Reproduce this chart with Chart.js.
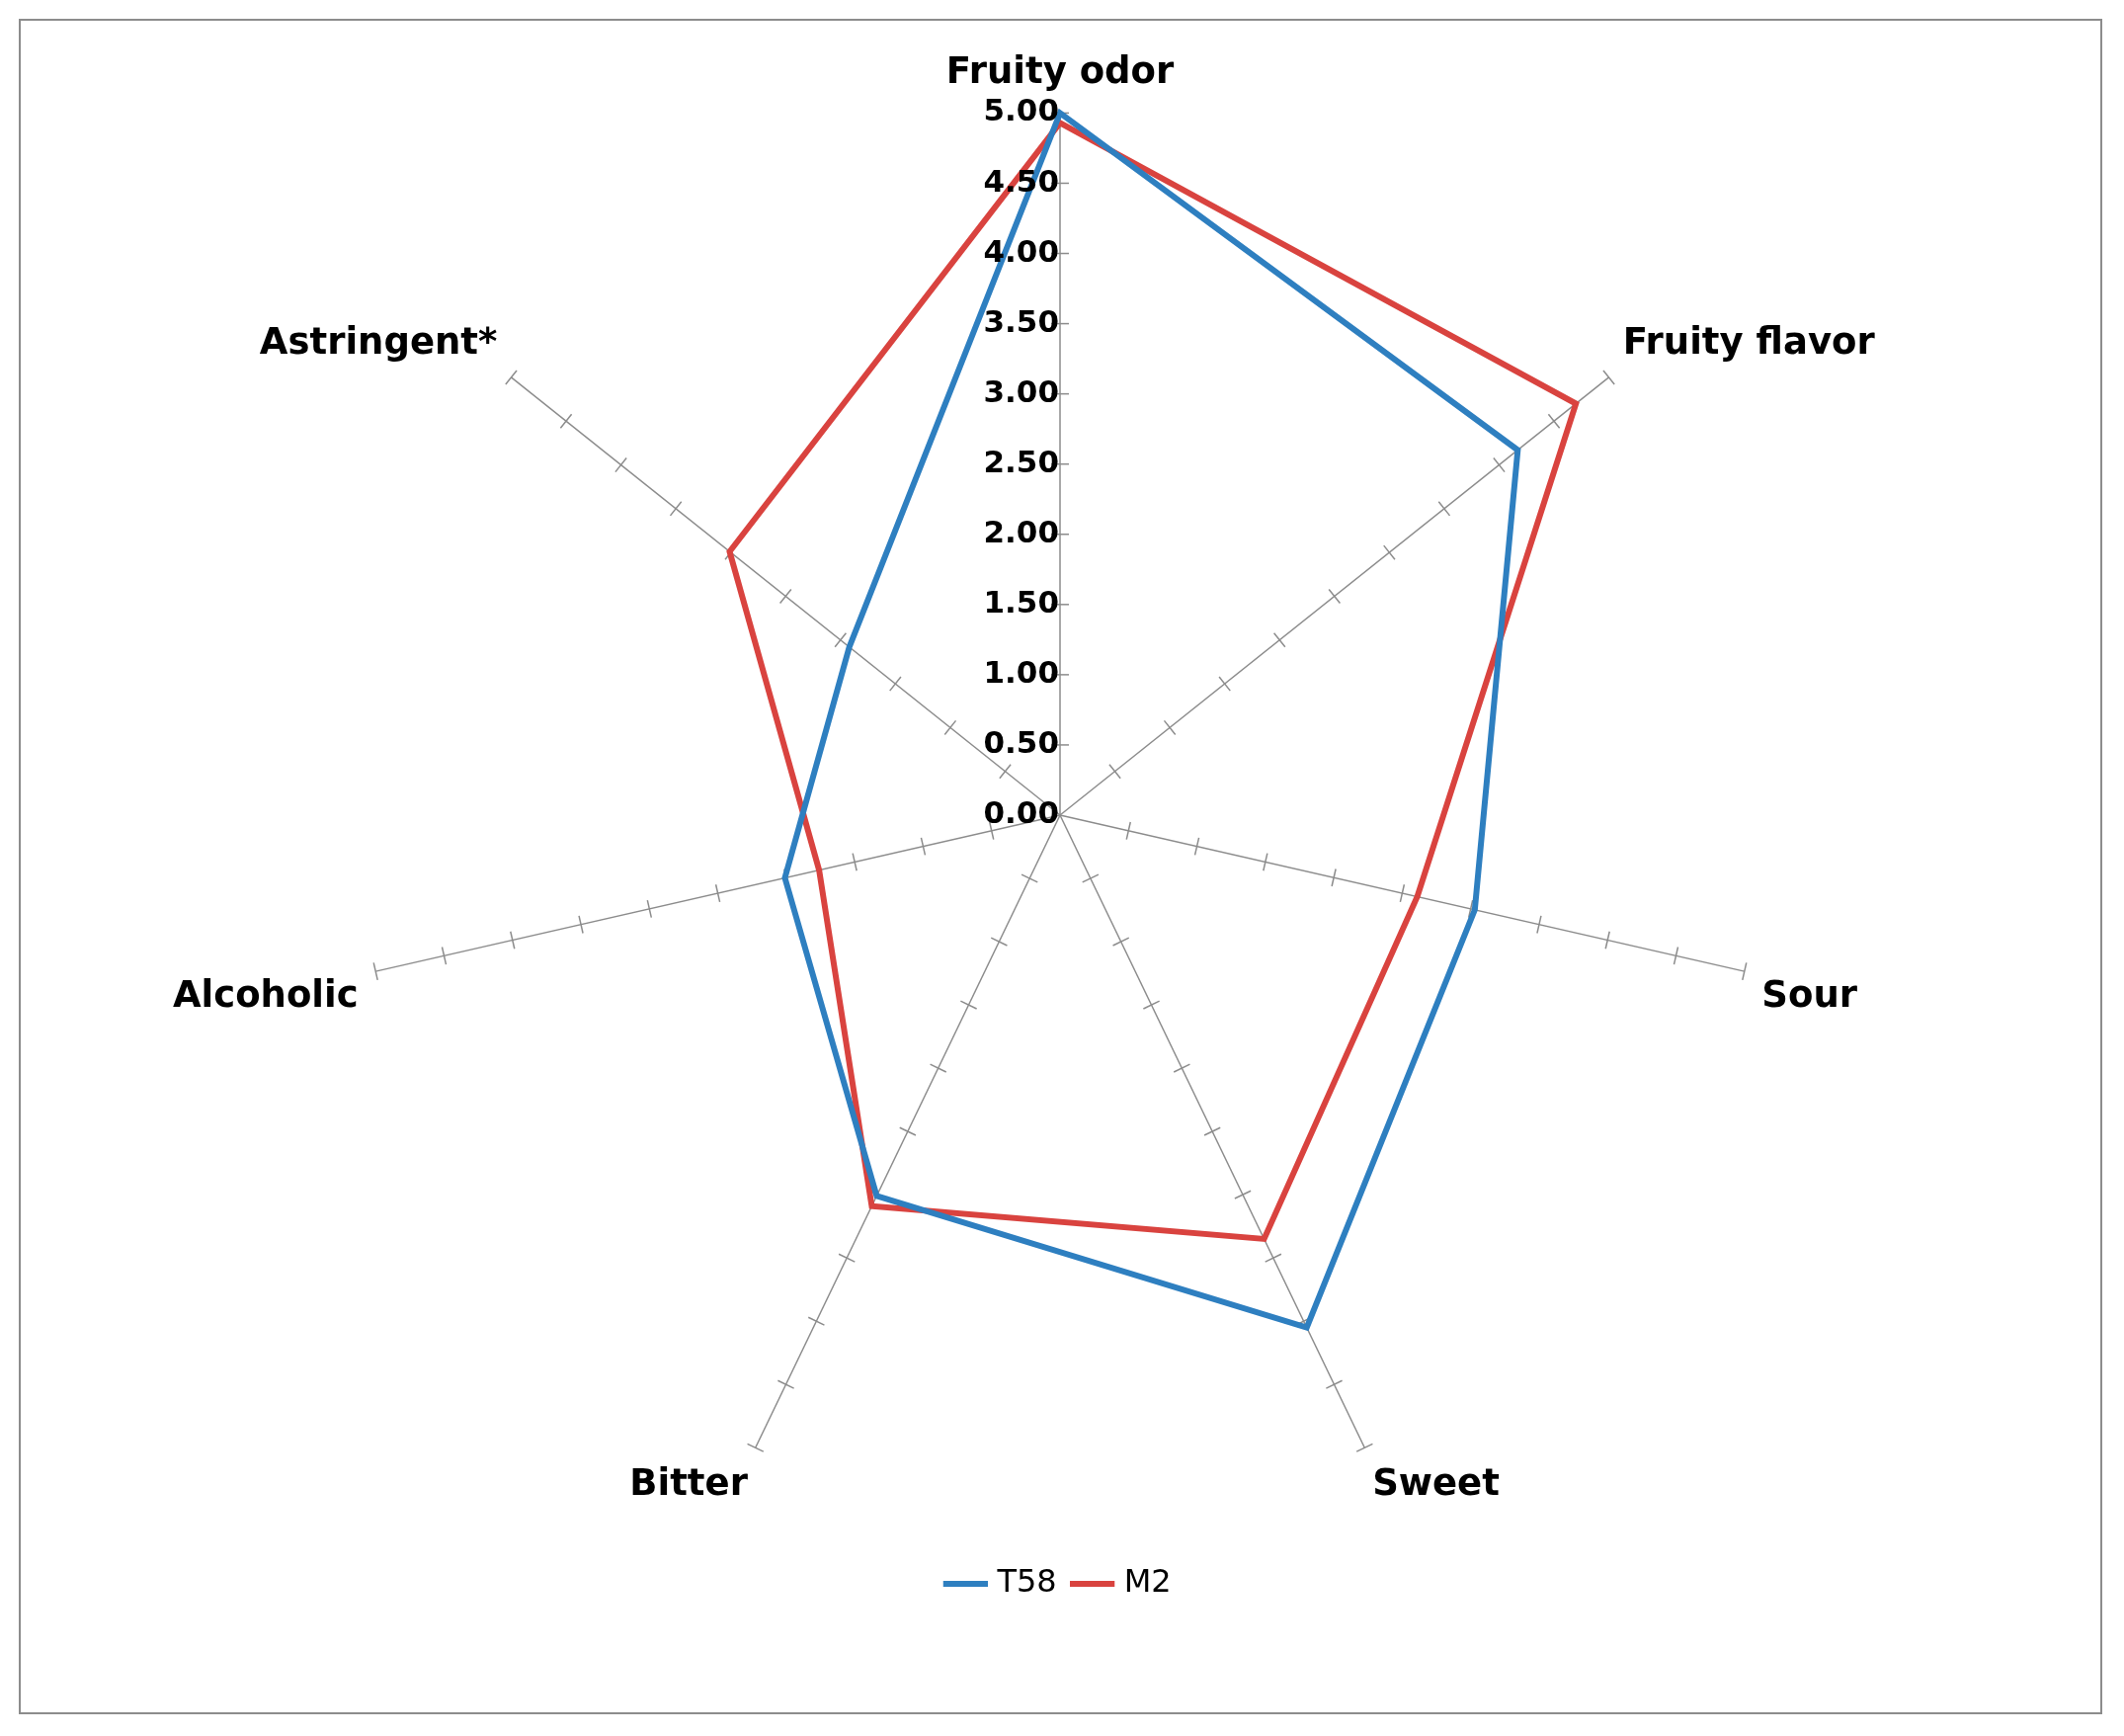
<!DOCTYPE html>
<html>
<head>
<meta charset="utf-8">
<script src="https://cdn.jsdelivr.net/npm/chart.js@4"></script>
<style>
  html, body { margin: 0; padding: 0; background: #fff; }
  #frame { position: absolute; left: 19px; top: 19px; width: 2109px; height: 1716px; border: 2px solid #8c8c8c; box-sizing: border-box; }
  #frame canvas { display: block; }
</style>
</head>
<body>
<div id="frame"><canvas id="radar" width="2105" height="1712"></canvas></div>
<script>
const categories = ['Fruity odor', 'Fruity flavor', 'Sour', 'Sweet', 'Bitter', 'Alcoholic', 'Astringent*']
const t58Values = [5.00, 4.17, 3.03, 4.05, 3.01, 2.01, 1.92]
const m2Values = [4.93, 4.70, 2.61, 3.35, 3.09, 1.76, 3.01]
const tickValues = [0, 0.5, 1, 1.5, 2, 2.5, 3, 3.5, 4, 4.5, 5]

// tick crosses on every spoke plus value labels along the top spoke
const axisTicks = {
    id: 'axisTicks',
    beforeDatasetsDraw(chart) {
        let scale = chart.scales.r
        let ctx = chart.ctx
        ctx.save()
        ctx.strokeStyle = '#8c8c8c'
        ctx.lineWidth = 1.5
        categories.forEach((c, i) => {
            let a = scale.getIndexAngle(i) - Math.PI / 2
            let nx = -Math.sin(a), ny = Math.cos(a)
            tickValues.slice(1).forEach((v) => {
                let p = scale.getPointPositionForValue(i, v)
                ctx.beginPath()
                ctx.moveTo(p.x - nx * 9, p.y - ny * 9)
                ctx.lineTo(p.x + nx * 9, p.y + ny * 9)
                ctx.stroke()
            })
        })
        ctx.restore()
    },
    afterDatasetsDraw(chart) {
        let scale = chart.scales.r
        let ctx = chart.ctx
        ctx.save()
        ctx.font = 'bold 31px "DejaVu Sans", sans-serif'
        ctx.fillStyle = '#000'
        ctx.textAlign = 'right'
        ctx.textBaseline = 'middle'
        tickValues.forEach((v) => {
            let p = scale.getPointPositionForValue(0, v)
            ctx.fillText(v.toFixed(2), p.x - 1, p.y)
        })
        ctx.restore()
    }
}

new Chart(document.getElementById('radar'), {
    type: 'radar',
    data: {
        labels: categories,
        datasets: [
            { label: 'T58', data: t58Values, borderColor: '#2e7fc0', borderWidth: 6, pointRadius: 0, fill: false, tension: 0 },
            { label: 'M2', data: m2Values, borderColor: '#d9433f', borderWidth: 6, pointRadius: 0, fill: false, tension: 0 }
        ]
    },
    options: {
        responsive: false,
        animation: false,
        layout: { padding: { top: 0, bottom: 104, left: 60, right: 60 } },
        scales: {
            r: {
                min: 0,
                max: 5,
                grid: { display: false },
                angleLines: { color: '#8c8c8c', lineWidth: 1.5 },
                ticks: { display: false, stepSize: 0.5 },
                pointLabels: {
                    font: { family: '"DejaVu Sans", sans-serif', size: 37, weight: 'bold' },
                    color: '#000',
                    padding: 18
                }
            }
        },
        plugins: {
            legend: {
                position: 'bottom',
                labels: {
                    usePointStyle: true,
                    pointStyle: 'line',
                    boxWidth: 70,
                    font: { family: '"DejaVu Sans", sans-serif', size: 32 },
                    color: '#000',
                    padding: 20
                }
            },
            tooltip: { enabled: false }
        }
    },
    plugins: [axisTicks]
})
</script>
</body>
</html>
